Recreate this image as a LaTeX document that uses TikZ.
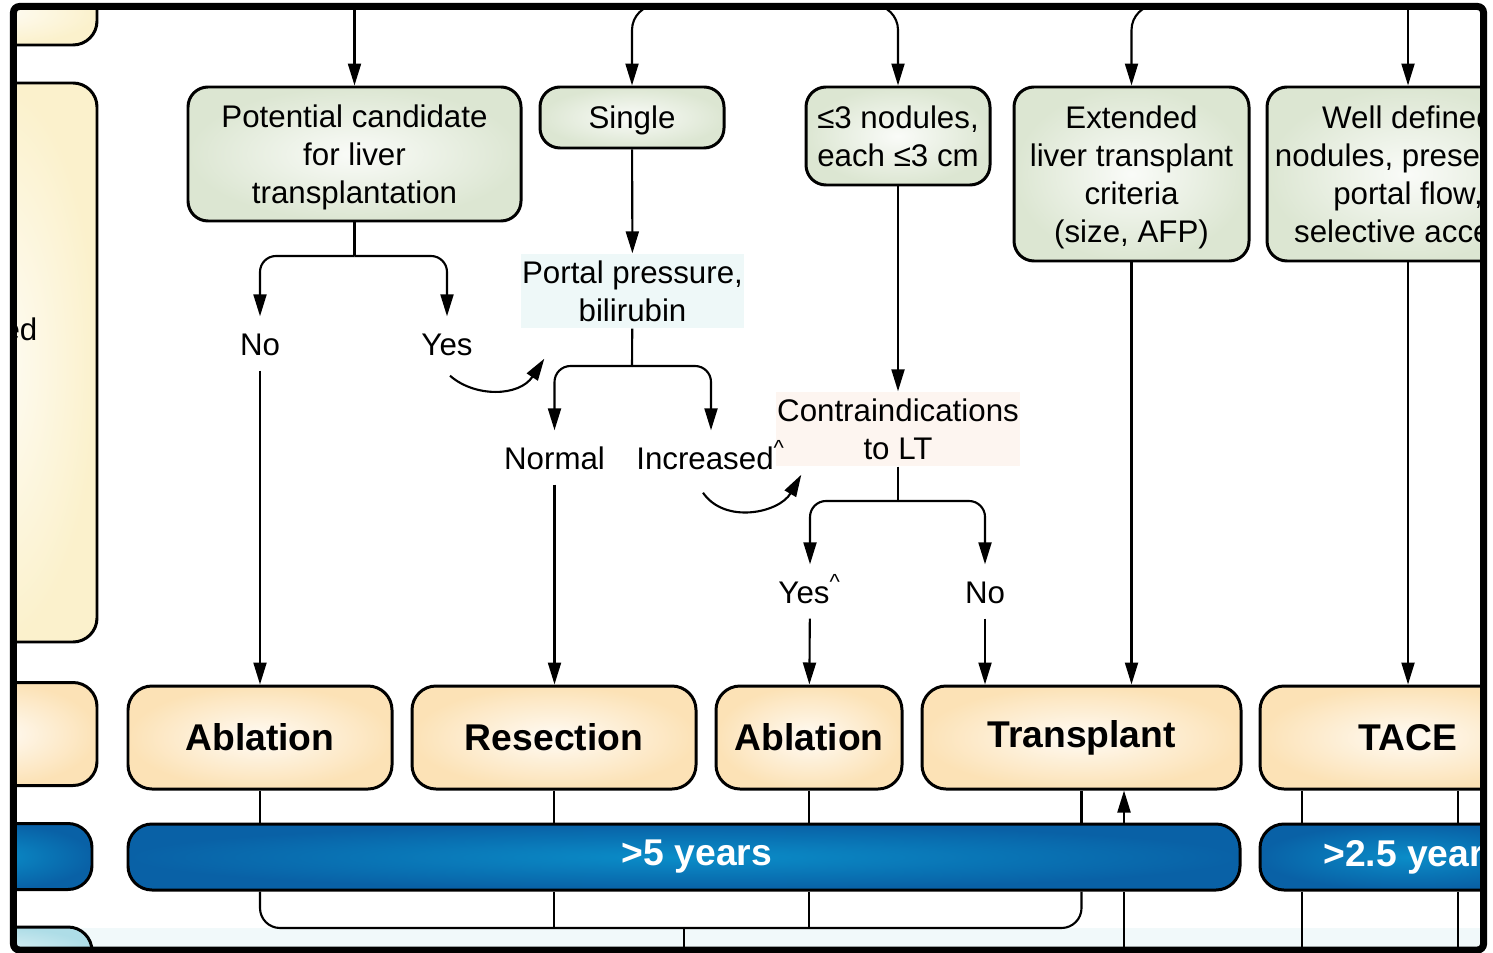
\documentclass[tikz,border=0pt]{standalone}
\usepackage{fontspec}
\setmainfont{Liberation Sans}
\usetikzlibrary{positioning,calc,arrows.meta}
\definecolor{gfill}{HTML}{DCE6D2}
\definecolor{ofill}{HTML}{FCE2B6}
\definecolor{bdark}{HTML}{0961A6}
\definecolor{blite}{HTML}{0A8DC8}
\definecolor{yfill}{HTML}{FBF1CC}
\definecolor{qcyan}{HTML}{EEF8F8}
\definecolor{qpink}{HTML}{FDF5F0}
\definecolor{band}{HTML}{F1F9FA}
\definecolor{cyfill}{HTML}{AEDDE7}
\newcommand\lblsize{\fontsize{8.9pt}{10.8pt}\selectfont}
\newcommand\trtsize{\fontsize{10.6pt}{12.7pt}\selectfont\bfseries}
\tikzset{
  wire/.style  = {line width=0.6pt},
  arr/.style   = {line width=0.6pt, -{Triangle[length=2.2mm,width=1.3mm]}},
  cbox/.style  = {draw, line width=0.85pt, rounded corners=2mm, inner color=gfill!15!white,
                  outer color=gfill, align=center, font=\lblsize, inner sep=0pt,
                  text depth=0pt},
  tbox/.style  = {draw, line width=0.85pt, rounded corners=2.4mm, inner color=ofill!15!white,
                  outer color=ofill, font=\trtsize, inner sep=0pt, minimum height=10.3mm},
  sbar/.style  = {draw, line width=0.85pt, rounded corners=2.4mm, inner color=blite,
                  outer color=bdark, text=white, font=\trtsize, inner sep=0pt,
                  minimum height=6.6mm},
  ybox/.style  = {draw, line width=0.85pt, rounded corners=2.4mm, inner color=yfill!20!white,
                  outer color=yfill, minimum width=2cm},
  qbox/.style  = {align=center, font=\lblsize, inner sep=0pt, minimum height=7.4mm},
  lbl/.style   = {font=\lblsize, inner sep=0.8mm, text height=3mm, text depth=0.7mm,
                  anchor=base},
}

\begin{document}
\begin{tikzpicture}
  \useasboundingbox (0,0) rectangle (14.93,9.52);
  \fill[white] (0,0) rectangle (14.93,9.52);
  \begin{scope}
  \clip[rounded corners=0.6mm] (0.135,0.02) rectangle (14.835,9.455);
  \fill[band] (0,0) rectangle (14.93,0.24);
  \node[ybox, minimum height=6.6mm] (ltop) at (-0.03,9.40) {};
  \node[ybox, minimum height=55.9mm] (lmid) at (-0.03,5.895) {};
  \node[font=\lblsize, anchor=base east, inner sep=0pt] (lmidtxt) at (0.38,6.12) {ed};
  \node[tbox, minimum width=2cm] (ltrt) at (-0.03,2.18) {};
  \node[sbar, minimum width=2cm] (lbar) at (-0.08,0.955) {};
  \node[draw, line width=0.85pt, rounded corners=2.4mm, inner color=cyfill!40!white,
        outer color=cyfill, minimum width=2cm, minimum height=5mm] (lbot) at (-0.08,0) {};

  \node[cbox, minimum width=33.3mm, minimum height=13.4mm] (cand) at (3.545,7.98)
        {Potential candidate\\for liver\\transplantation};
  \node[cbox, minimum width=18.4mm, minimum height=6.1mm] (single) at (6.32,8.345) {Single};
  \node[cbox, minimum width=18.4mm, minimum height=9.8mm] (nod) at (8.98,8.16)
        {≤3 nodules,\\each ≤3 cm};
  \node[cbox, minimum width=23.5mm, minimum height=17.4mm] (ext) at (11.315,7.78)
        {Extended\\liver transplant\\criteria\\(size, AFP)};
  \node[cbox, minimum width=28.2mm, minimum height=17.4mm] (well) at (14.08,7.78)
        {Well defined\\nodules, preserved\\portal flow,\\selective access};

  \node[qbox, fill=qcyan, minimum width=22.3mm] (portal) at (6.325,6.61)
        {Portal pressure,\\bilirubin};
  \node[qbox, fill=qpink, minimum width=24.4mm] (contra) at (8.98,5.23)
        {Contraindications\\to LT};

  \node[lbl] (no1) at (2.60,5.97) {No};
  \node[lbl] (yes1) at (4.47,5.97) {Yes};
  \node[lbl] (normal) at (5.545,4.83) {Normal};
  \node[lbl] (incr) at (7.11,4.83) {Increased\textsuperscript{\textasciicircum}};
  \node[lbl] (yes2) at (8.10,3.49) {Yes\textsuperscript{\textasciicircum}};
  \node[lbl] (no2) at (9.85,3.49) {No};

  \node[tbox, minimum width=26.4mm] (abl1) at (2.60,2.145) {Ablation};
  \node[tbox, minimum width=28.4mm] (res) at (5.54,2.145) {Resection};
  \node[tbox, minimum width=18.6mm] (abl2) at (8.09,2.145) {Ablation};
  \node[tbox, minimum width=31.9mm] (trans) at (10.815,2.145) {Transplant};
  \node[tbox, minimum width=29.6mm] (tace) at (14.08,2.145) {TACE};

  \node[sbar, minimum width=111.2mm] (bar5) at (6.84,0.95) {\hspace*{2.6mm}>5 years};
  \node[sbar, minimum width=29.6mm] (bar25) at (14.08,0.95) {\hspace*{1.2mm}>2.5 years};

  \coordinate (t1) at (3.545,9.52);
  \coordinate (t2) at (7.65,9.47);
  \coordinate (t3) at (12.70,9.47);
  \coordinate (t4) at (14.08,9.52);
  \coordinate (s1) at (3.545,6.96);
  \coordinate (s2) at (6.32,5.86);
  \coordinate (s3) at (8.98,4.51);
  \coordinate (jb) at (6.84,0.24);
  \coordinate (jbe) at (6.84,0);
  \coordinate (ub) at (11.24,0);
  \coordinate (ta) at (13.02,0);
  \coordinate (tb) at (14.58,0);

  \draw[arr] (t1) -- (cand);
  \draw[arr, rounded corners=2.5mm] (t2) -| (single);
  \draw[arr, rounded corners=2.5mm] (t2) -| (nod);
  \draw[arr, rounded corners=2.5mm] (t3) -| (ext);
  \draw[arr] (t4) -- (well);
  \draw[wire] (cand) -- (s1);
  \draw[arr, rounded corners=1.6mm] (s1) -| (no1);
  \draw[arr, rounded corners=1.6mm] (s1) -| (yes1);
  \draw[arr] (no1) -- (abl1);
  \draw[arr] ([shift={(0.03,-0.05)}]yes1.south)..controls+(0.25,-0.22)and+(-0.25,-0.38)..([shift={(0.24,-0.30)}]portal.south west);
  \draw[arr] (single) -- (portal);
  \draw[wire] (portal) -- (s2);
  \draw[arr, rounded corners=1.6mm] (s2) -| (normal);
  \draw[arr, rounded corners=1.6mm] (s2) -| (incr);
  \draw[arr] (normal) -- (normal |- res.north);
  \draw[arr] ([shift={(-0.08,-0.08)}]incr.south)..controls+(0.22,-0.32)and+(-0.22,-0.38)..([shift={(0.26,-0.08)}]contra.south west);
  \draw[arr] (nod) -- (contra);
  \draw[wire] (contra) -- (s3);
  \draw[arr, rounded corners=1.6mm] (s3) -| (yes2);
  \draw[arr, rounded corners=1.6mm] (s3) -| (no2);
  \draw[arr] (yes2) -- (abl2);
  \draw[arr] (no2) -- (no2 |- trans.north);
  \draw[arr] (ext) -- (ext |- trans.north);
  \draw[arr] (well) -- (tace);

  \draw[wire] (abl1) -- (abl1 |- bar5.north);
  \draw[wire] (res) -- (res |- bar5.north);
  \draw[wire] (abl2) -- (abl2 |- bar5.north);
  \draw[wire] (trans) -- (trans |- bar5.north);
  \draw[wire, rounded corners=2mm] (abl1 |- bar5.south) |- (jb) -| (trans |- bar5.south);
  \draw[wire] (res |- bar5.south) -- (res |- jb);
  \draw[wire] (abl2 |- bar5.south) -- (abl2 |- jb);
  \draw[wire] (jb) -- (jbe);
  \draw[wire] (ub) -- (ub |- bar5.south);
  \draw[arr] (ub |- bar5.north) -- (ub |- trans.south);
  \draw[wire] (ta |- tace.south) -- (ta |- bar25.north);
  \draw[wire] (ta |- bar25.south) -- (ta);
  \draw[wire] (tb |- tace.south) -- (tb |- bar25.north);
  \draw[wire] (tb |- bar25.south) -- (tb);
  \end{scope}
  \draw[line width=0.7mm, rounded corners=0.6mm] (0.135,0.02) rectangle (14.835,9.455);
\end{tikzpicture}
\end{document}
